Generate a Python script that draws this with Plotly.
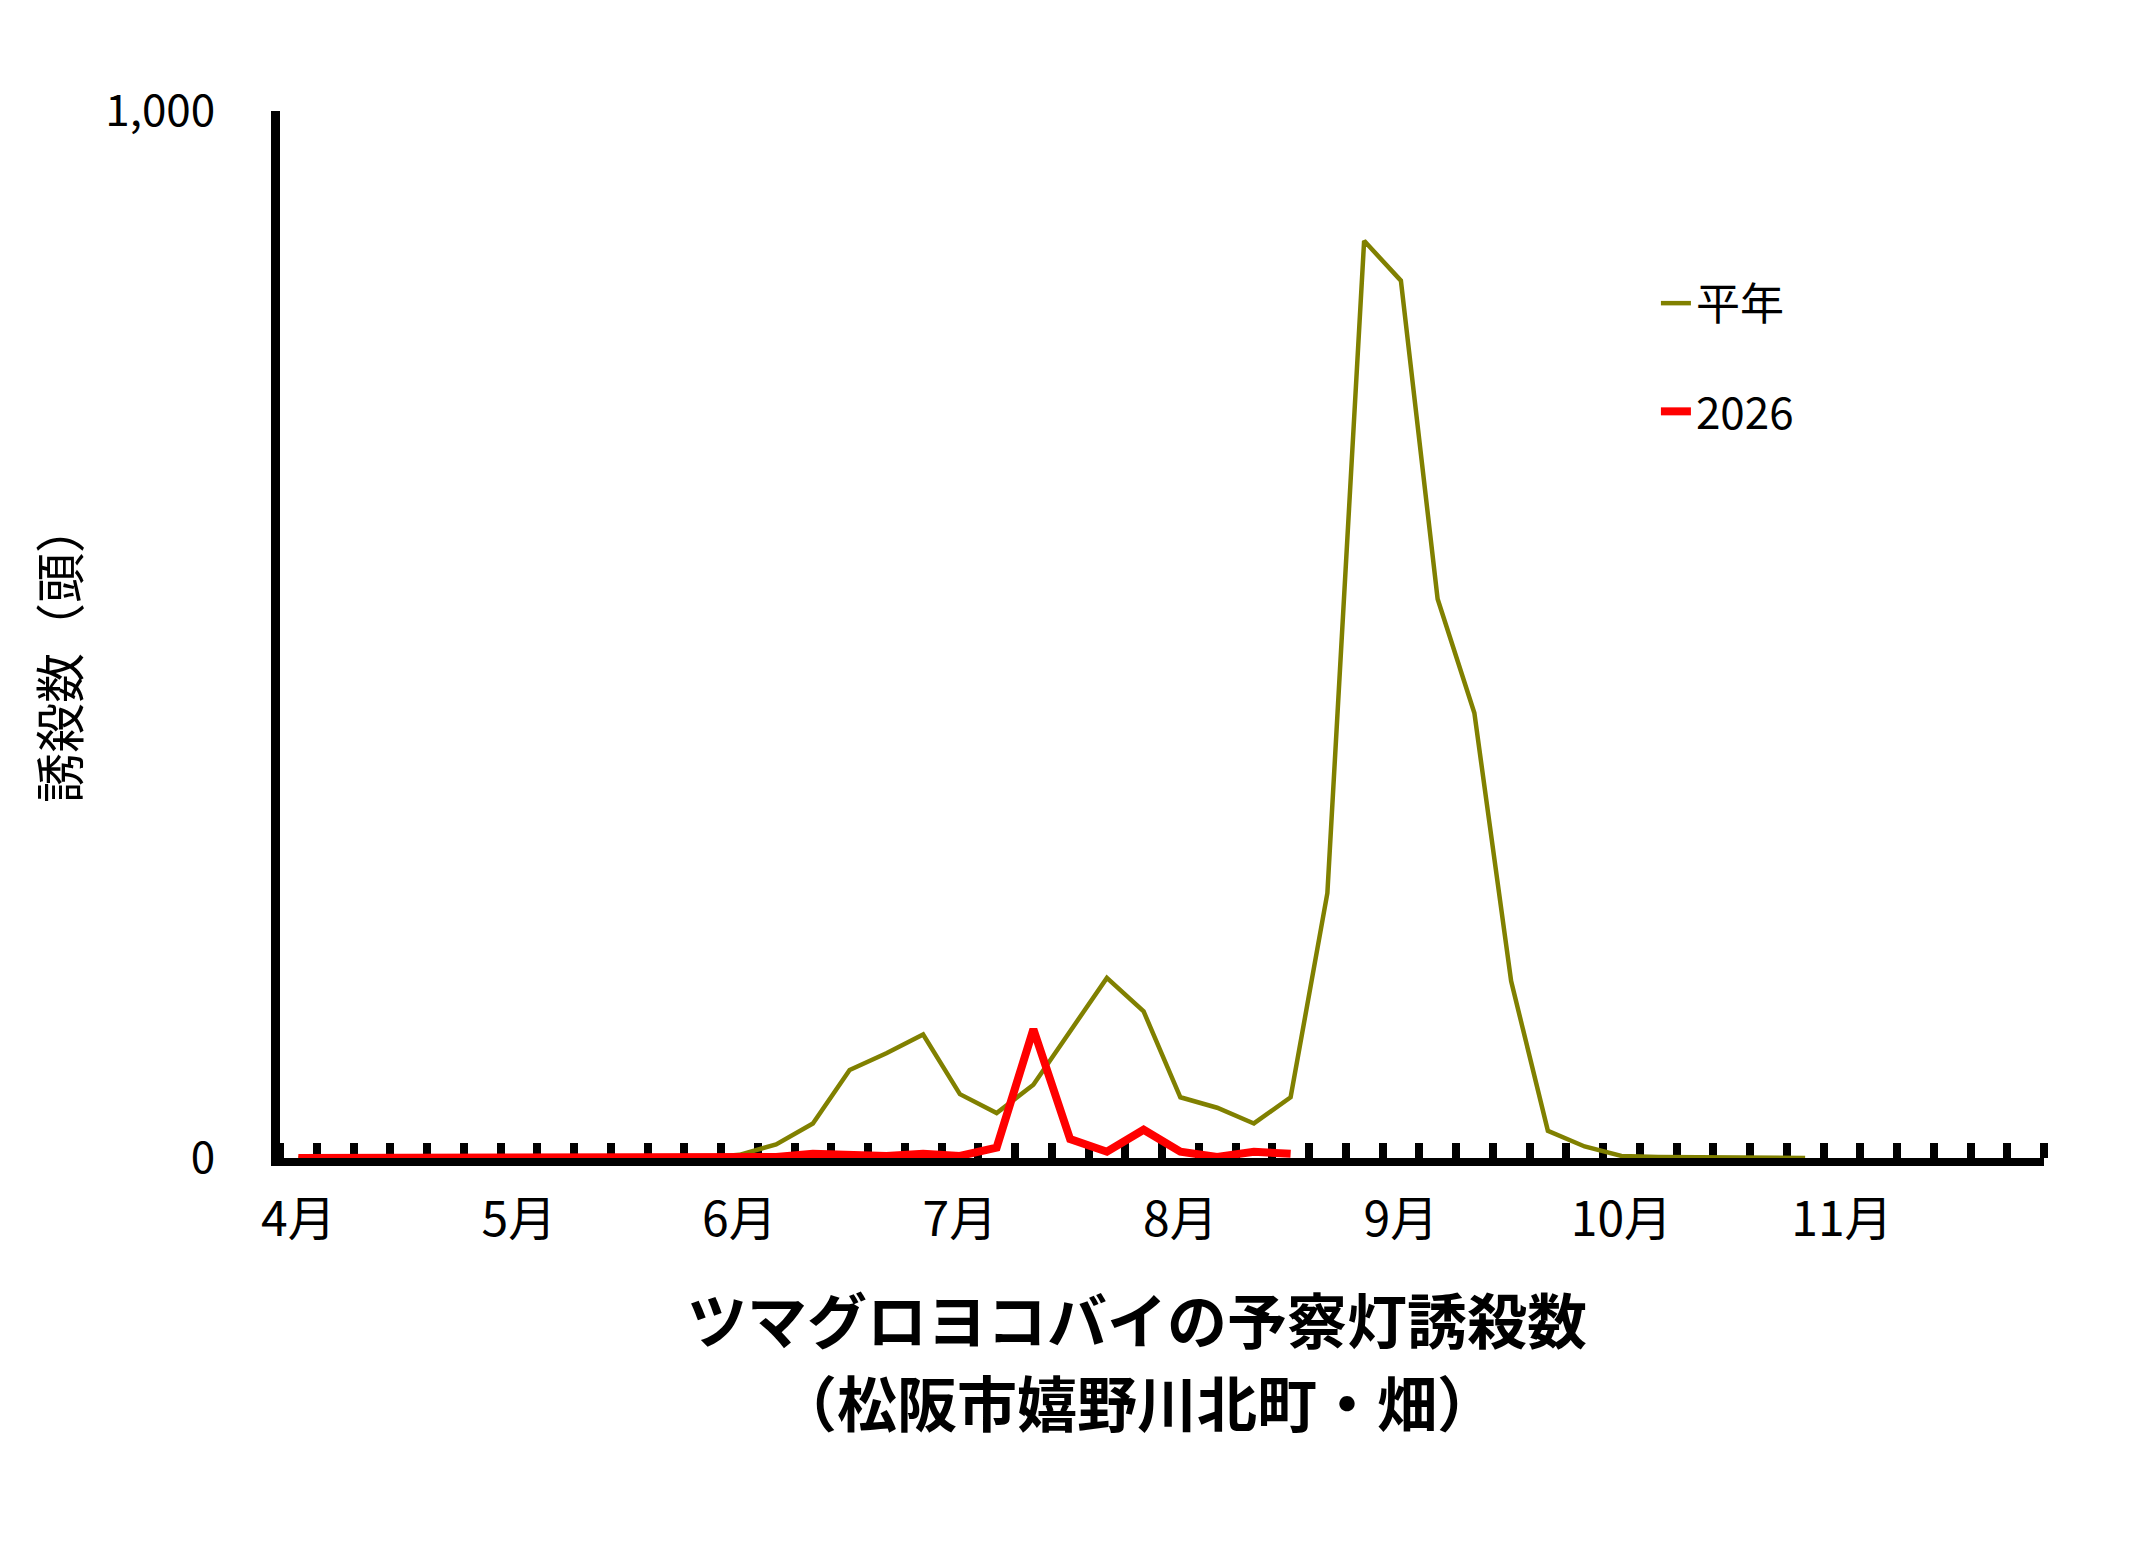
import plotly.graph_objects as go

# 半旬（5日）ごとの誘殺数、4月第1半旬から
months = ["4月", "5月", "6月", "7月", "8月", "9月", "10月", "11月"]
PERIODS_PER_MONTH = 6

heinen = [0, 0, 0, 0, 0, 0, 0, 0, 0, 0, 0, 0,
          3, 13, 33, 84, 100, 118, 61, 43, 70, 121, 172, 140,
          58, 48, 33, 58, 253, 876, 838, 534, 425, 169, 26, 11,
          2, 1, 1, 1, 1, 0]
y2026 = [0, 0, 0, 0, 0, 0, 0, 0, 0, 0, 0, 0,
         0, 1, 4, 3, 2, 4, 2, 10, 123, 18, 6, 27,
         6, 1, 6, 4]

title_lines = ["ツマグロヨコバイの予察灯誘殺数", "（松阪市嬉野川北町・畑）"]

n_periods = len(months) * PERIODS_PER_MONTH
month_pos = [i * PERIODS_PER_MONTH for i in range(len(months))]

TICK_FONT = "Liberation Sans Narrow, Noto Sans CJK JP, sans-serif"
JP_FONT = "Noto Sans CJK JP, sans-serif"

fig = go.Figure()
fig.add_trace(go.Scatter(
    x=list(range(len(heinen))), y=heinen, name="平年", mode="lines",
    line=dict(color="#808000", width=4.5), legendgroup="a", cliponaxis=False,
))
fig.add_trace(go.Scatter(
    x=list(range(len(y2026))), y=y2026, name="2026", mode="lines",
    line=dict(color="#ff0000", width=8), legendgroup="b", cliponaxis=False,
))

# タイトル（2行）と縦軸ラベル
annotations = [dict(
    text="誘殺数（頭）",
    textangle=-90,
    xref="paper", yref="paper",
    x=-0.126, y=0.482,
    xanchor="center", yanchor="middle",
    showarrow=False,
    font=dict(family=JP_FONT, size=50, color="black"),
)]
for line, ypos in zip(title_lines, [-0.152, -0.232]):
    annotations.append(dict(
        text=f"<b>{line}</b>",
        xref="paper", yref="paper",
        x=0.486, y=ypos,
        xanchor="center", yanchor="middle",
        showarrow=False,
        font=dict(family=JP_FONT, size=60, color="black"),
    ))

fig.update_layout(
    width=2129,
    height=1554,
    margin=dict(l=272, r=93, t=103, b=404),
    paper_bgcolor="white",
    plot_bgcolor="white",
    xaxis=dict(
        range=[-0.5, n_periods - 0.5],
        tickmode="array",
        tickvals=month_pos,
        ticktext=months,
        ticks="",
        ticklabelstandoff=12,
        tickfont=dict(family=TICK_FONT, size=48, color="black"),
        showgrid=False,
        zeroline=False,
        showline=True,
        linecolor="black",
        linewidth=8,
        layer="below traces",
        minor=dict(tickmode="linear", tick0=-0.5, dtick=1, ticks="inside",
                   ticklen=15, tickwidth=8, tickcolor="black", showgrid=False),
    ),
    yaxis=dict(
        range=[0, 1000],
        tickmode="array",
        tickvals=[0, 1000],
        ticktext=["0", "1,000"],
        ticks="inside",
        ticklen=16,
        tickwidth=7,
        tickcolor="black",
        ticklabelstandoff=47,
        tickfont=dict(family=TICK_FONT, size=44, color="black"),
        showgrid=False,
        zeroline=False,
        showline=True,
        linecolor="black",
        linewidth=9,
        layer="below traces",
    ),
    legend=dict(
        x=0.78, y=0.85, xanchor="left", yanchor="top",
        font=dict(family=TICK_FONT, size=44, color="black"),
        tracegroupgap=48,
        traceorder="grouped",
        bgcolor="rgba(0,0,0,0)",
    ),
    annotations=annotations,
)

fig.write_html("out.html")
